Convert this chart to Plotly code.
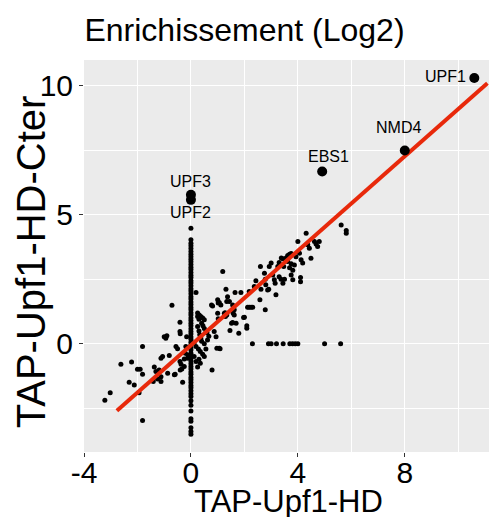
import plotly.graph_objects as go

# Enrichment values (log2)
cloud_x = [-3.22, -3.02, -2.62, -2.22, -2.31, -2.12, -2.0, -1.9, -1.81, -1.81, -1.94, -1.81,
           -1.37, -1.31, -1.19, -1.25, -1.12, -1.41, -1.12, -1.06, -1.12, -1.0, -0.9, -0.94,
           -0.87, -0.81, -0.71, -0.62, -0.56, -0.5, -0.41, -0.4, -0.59, -0.4, -0.37, -0.31,
           -0.34, -0.25, -0.21, -0.25, -0.16, -0.19, -0.12, -0.12, -0.41, -0.41,
           0.19, 0.12, 0.12, 0.19, 0.25, 0.31, 0.37, 0.44, 0.5, 0.25, 0.3, 0.33, 0.37, 0.19,
           0.28, 0.35, 0.44, 0.5, 0.6, 0.62, 0.67, 0.79, 0.81, 0.87, 0.94, 1.0, 1.02, 1.0,
           1.02, 0.97, 1.06, 1.19, 1.25, 1.29, 1.31, 1.34, 1.37, 1.46, 1.52, 1.62, 1.62, 1.65,
           1.69, 1.79, 1.87, 1.97, 2.09, 2.09, 2.12, 2.18, 2.25, 2.31, 2.18, 2.37, 2.43, 2.58,
           2.62, 2.6, 2.75, 2.78, 2.8, 2.78, 2.87, 2.93, 3.0, 3.06, 3.12, 3.15, 3.18, 3.25,
           3.3, 3.38, 3.44, 3.47, 3.3, 3.37, 3.44, 3.5, 3.56, 3.62, 3.69, 3.75, 3.62, 3.69,
           3.75, 3.81, 3.75, 3.81, 3.87, 3.93, 4.0, 4.06, 4.1, 4.1, 4.12, 4.18, 4.31, 4.37,
           4.43, 4.49, 4.62, 4.68, 4.74, 4.8, 5.62, 5.81, 5.81,
           0.25, 0.3, 0.4, 0.45, 0.5, 0.56, 0.3, 0.35, 0.25, 0.4, 0.5, 0.56, 0.77, 1.06,
           1.12, 1.44, 1.56, 1.28, 1.34, 1.56, 1.58, 2.0, 2.91, 1.09]
cloud_y = [-2.18, -1.89, -0.79, -0.7, -1.49, -1.59, -0.98, -0.98, -1.18, -0.1, -1.89, -2.97,
           -0.9, -1.07, -1.01, -1.36, -1.46, -1.46, -1.27, -0.49, -0.56, 0.28, 0.31, 0.22,
           -1.14, -0.45, 1.5, -1.2, -0.1, -0.19, 0.48, 0.39, -1.18, -1.01, -0.79, -1.49,
           -0.97, -0.59, -0.36, -0.88, 0.28, -0.1, -0.43, -0.56, 0.84, -0.68,
           1.99, 0.03, -0.49, -0.68, 1.06, 1.12, 1.06, 1.0, 0.93, 0.67, 0.5, 0.35, 0.22, -0.1,
           -0.2, -0.3, -0.4, -0.49, 0.43, 0.15, 0.3, -1.01, 1.47, 0.48, 0.28, 1.71, 1.58, 1.19,
           0.97, -0.17, -0.17, 2.8, 1.19, 1.06, 2.12, 1.64, 1.83, 0.52, 0.8, 1.32, 1.12, 1.99,
           0.8, 0.41, 1.99, 1.02, 0.7, 0.61, 1.42, 1.42, 1.42, 1.42, 2.03, 2.22, 2.45, 1.71,
           2.12, 3.0, 2.74, 2.5, 2.29, 1.32, 2.09, 3.0, 3.13, 2.67, 2.48, 2.35, 1.9, 3.0,
           3.15, 3.33, 3.3, 3.0, 2.6, 2.5, 2.35, 2.5, 3.33, 3.42, 3.47, 3.5, 3.19, 2.95,
           3.1, 2.85, 2.67, 2.48, 3.06, 3.38, 3.97, 3.51, 2.57, 2.41, 3.26, 3.13, 4.29, 3.84,
           3.71, 3.32, 3.97, 3.87, 3.77, 3.97, 4.61, 4.39, 4.29,
           1.2, 0.95, 0.8, 0.7, 0.6, 0.45, -0.6, -0.75, -0.9, 0.1, 0.0, -0.2, 1.51, 1.6,
           1.51, 1.64, 1.51, 1.21, 1.12, 0.83, 1.19, 1.03, 2.12, -0.19]

# proteins with no signal in TAP-Upf1-HD (x = 0)
column_y = [4.48, 4.03, 3.9, 3.8, 3.7, 3.58, 3.47, 3.38, 3.28, 3.18, 3.08, 2.97, 2.88, 2.77,
            2.66, 2.57, 2.45, 2.36, 2.25, 2.14, 2.05, 1.94, 1.83, 1.74, 1.62, 1.53, 1.41, 1.32,
            1.21, 1.12, 1.0, 0.91, 0.8, 0.7, 0.59, 0.48, 0.38, 0.27, 0.18, 0.06, -0.04, -0.15,
            -0.24, -0.36, -0.45, -0.57, -0.66, -0.77, -0.88, -0.97, -1.09, -1.18, -1.3, -1.39,
            -1.5, -1.61, -1.7, -1.82, -1.93, -2.04, -2.2, -2.38, -2.6, -2.9, -3.0, -3.25, -3.4,
            -3.5]

# proteins with no signal in TAP-Upf1-HD-Cter (y = 0)
row_x = [2.3, 2.9, 3.0, 3.2, 3.45, 3.7, 3.8, 3.9, 4.0, 5.0, 5.6]

# highlighted proteins
hit_names = ['UPF1', 'NMD4', 'EBS1', 'UPF3', 'UPF2']
hit_x = [10.6, 8.0, 4.91, 0.0, 0.0]
hit_y = [10.3, 7.49, 6.68, 5.78, 5.58]

# regression line
fit_x = [-2.77, 11.09]
fit_y = [-2.59, 10.1]

x_tickvals = [-4, 0, 4, 8]
x_ticktext = ['-4', '0', '4', '8']
y_tickvals = [0, 5, 10]
y_ticktext = ['0', '5', '10']

FONT = 'Liberation Sans, Arial, sans-serif'
label_shift = {'UPF1': (-29, 2), 'NMD4': (-6, 23), 'EBS1': (6, 15),
               'UPF3': (0, 13), 'UPF2': (0, -13)}

all_x = cloud_x + [0.0 for _ in column_y] + row_x
all_y = cloud_y + column_y + [0.0 for _ in row_x]

fig = go.Figure()

fig.add_trace(go.Scatter(
    x=all_x, y=all_y, mode='markers',
    marker=dict(size=5, color='black'),
    showlegend=False, hoverinfo='skip'
))

fig.add_trace(go.Scatter(
    x=fit_x, y=fit_y, mode='lines',
    line=dict(color='#E8290B', width=4),
    showlegend=False
))

fig.add_trace(go.Scatter(
    x=hit_x, y=hit_y, mode='markers',
    marker=dict(size=10, color='black'),
    text=hit_names, showlegend=False
))

for name, x, y in zip(hit_names, hit_x, hit_y):
    dx, dy = label_shift[name]
    fig.add_annotation(
        x=x, y=y, text=name, showarrow=False,
        xshift=dx, yshift=dy,
        font=dict(family=FONT, size=16, color='black')
    )

# axis titles placed as annotations (ggplot-like placement)
fig.add_annotation(
    text='TAP-Upf1-HD', xref='paper', yref='paper',
    x=0.505, y=-0.125, yanchor='middle', showarrow=False, borderpad=0,
    font=dict(family=FONT, size=31, color='black')
)
fig.add_annotation(
    text='TAP-Upf1-HD-Cter', xref='paper', yref='paper',
    x=-0.13, y=0.485, xanchor='center', yanchor='middle', textangle=-90,
    showarrow=False, borderpad=0,
    font=dict(family=FONT, size=40, color='black')
)

axis_common = dict(
    showgrid=True, gridcolor='white', gridwidth=1.2,
    zeroline=False, showline=False, automargin=False,
    ticks='outside', ticklen=4, tickwidth=1, tickcolor='#333333',
    tickfont=dict(family=FONT, size=30, color='black'),
)

fig.update_xaxes(
    range=[-4.0, 11.15],
    tickvals=x_tickvals, ticktext=x_ticktext,
    ticklabelstandoff=-10,
    minor=dict(dtick=2, tick0=0, showgrid=True, gridcolor='white', gridwidth=0.6),
    **axis_common
)
fig.update_yaxes(
    range=[-4.19, 11.0],
    tickvals=y_tickvals, ticktext=y_ticktext,
    minor=dict(dtick=2.5, tick0=0, showgrid=True, gridcolor='white', gridwidth=0.6),
    **axis_common
)

fig.update_layout(
    width=489, height=517,
    title=dict(text='Enrichissement (Log2)', x=0.5, xref='container', xanchor='center',
               y=1 - 30 / 517, yref='container', yanchor='middle',
               font=dict(family=FONT, size=32, color='black')),
    plot_bgcolor='#EBEBEB',
    paper_bgcolor='white',
    margin=dict(l=84, r=0, t=60, b=65),
    font=dict(family=FONT),
)

# the page body has a default 8px margin; drop it so the figure fills the window
fig.write_html("out.html", config={'displayModeBar': False},
               post_script="document.body.style.margin='0';")
